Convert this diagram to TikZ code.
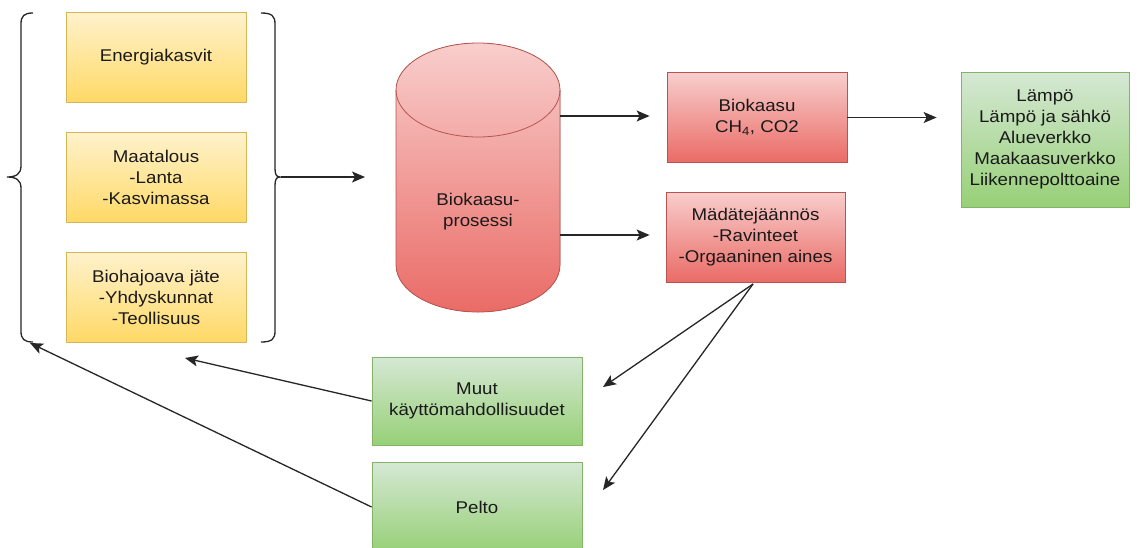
\documentclass[tikz,border=0pt]{standalone}
\usepackage{fontspec}
\setmainfont[FakeStretch=1.1]{Liberation Sans}
\usetikzlibrary{arrows.meta}
\definecolor{ytop}{HTML}{FFF2CC}
\definecolor{ybot}{HTML}{FFD966}
\definecolor{ystroke}{HTML}{D6B656}
\definecolor{rtop}{HTML}{F8CECC}
\definecolor{rbot}{HTML}{EA6B66}
\definecolor{rstroke}{HTML}{B85450}
\definecolor{gtop}{HTML}{D5E8D4}
\definecolor{gbot}{HTML}{97D077}
\definecolor{gstroke}{HTML}{82B366}
\definecolor{txt}{HTML}{1A1A1A}
\begin{document}
\begin{tikzpicture}[x=1pt,y=-1pt,
  label/.style={align=center, text=txt, font=\fontsize{17}{21}\selectfont, inner sep=0pt},
  box/.style={label, draw, rectangle, minimum width=180pt, minimum height=90pt, line width=0.8pt},
  ybox/.style={box, draw=ystroke, top color=ytop, bottom color=ybot},
  rbox/.style={box, draw=rstroke, top color=rtop, bottom color=rbot},
  gbox/.style={box, draw=gstroke, top color=gtop, bottom color=gbot},
  arr/.style={-{Stealth[length=13pt,width=11pt,inset=3pt]}, line width=1.3pt, draw=black!85},
  brace/.style={line width=1.3pt, draw=black!85}]
\useasboundingbox (0,0) rectangle (1139,547);
\clip (0,0) rectangle (1139,547);
\fill[white] (0,0) rectangle (1139,547);

% source boxes
\node[ybox] (ener) at (156,57.5) {Energiakasvit};
\node[ybox] (maat) at (156,177.5) {Maatalous\\-Lanta\\-Kasvimassa};
\node[ybox] (bioj) at (156,297) {Biohajoava jäte\\-Yhdyskunnat\\-Teollisuus};

% braces
\draw[brace] (33,13) .. controls (24,13) and (21,16) .. (21,24) -- (21,166)
  .. controls (21,174) and (16,177) .. (7,177)
  .. controls (16,177) and (21,180) .. (21,188) -- (21,331)
  .. controls (21,339) and (24,342) .. (33,342);
\draw[brace] (261,13) .. controls (272,13) and (275,16) .. (275,24) -- (275,168)
  .. controls (275,174) and (276,177) .. (280,177)
  .. controls (276,177) and (275,180) .. (275,186) -- (275,331)
  .. controls (275,339) and (272,342) .. (261,342);
\coordinate (rb) at (281,177);

% cylinder
\fill[top color=rtop, bottom color=rbot]
  (396,90) arc[start angle=180, end angle=360, x radius=82, y radius=47]
  -- (560,265) arc[start angle=0, end angle=180, x radius=82, y radius=47] -- cycle;
\draw[rstroke, line width=0.8pt]
  (396,90) arc[start angle=180, end angle=360, x radius=82, y radius=47]
  -- (560,265) arc[start angle=0, end angle=180, x radius=82, y radius=47] -- cycle;
\draw[rstroke, line width=0.8pt] (560,90) arc[start angle=0, end angle=180, x radius=82, y radius=47];
\node[label] (cyl) at (478,212) {Biokaasu-\\prosessi};
\coordinate (cylL) at (396,177);
\coordinate (cylA) at (560,116);
\coordinate (cylB) at (560,235);

% products
\node[rbox] (biok) at (757,117.5) {Biokaasu\\CH\textsubscript{4}, CO2};
\node[rbox, minimum width=179pt] (mada) at (755.5,237) {Mädätejäännös\\-Ravinteet\\-Orgaaninen aines};
\node[gbox, minimum width=168pt, minimum height=135pt] (kayt) at (1045,139.5)
  {Lämpö\\Lämpö ja sähkö\\Alueverkko\\Maakaasuverkko\\Liikennepolttoaine};
\node[gbox, minimum width=210pt, minimum height=88pt] (muut) at (477,401) {Muut\\käyttömahdollisuudet};
\node[gbox, minimum width=210pt] (pelto) at (477,507) {Pelto};

% connector ends
\coordinate (mb) at (753,284);
\coordinate (mt) at (603,387);
\coordinate (pt) at (603,490);
\coordinate (yb) at (185,358);
\coordinate (lb) at (30,343);

% arrows
\draw[arr, shorten >=31pt] (rb) -- (cylL);
\draw[arr, shorten >=17pt] (cylA) -- (biok.west |- cylA);
\draw[arr, shorten >=16pt] (cylB) -- (mada.west |- cylB);
\draw[arr, shorten >=24pt] (biok.east) -- (kayt.west |- biok.east);
\draw[arr] (mb) -- (mt);
\draw[arr] (mb) -- (pt);
\draw[arr] (muut.west) -- (yb);
\draw[arr] (pelto.west) -- (lb);
\end{tikzpicture}
\end{document}
